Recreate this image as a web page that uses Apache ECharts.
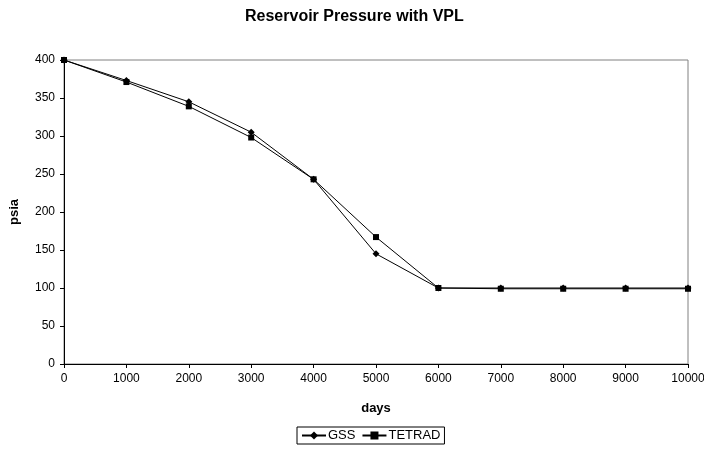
<!DOCTYPE html>
<html>
<head>
<meta charset="utf-8">
<script src="https://cdn.jsdelivr.net/npm/echarts@6/dist/echarts.min.js"></script>
<style>
html, body { margin: 0; padding: 0; background: #fff; }
#main { width: 704px; height: 453px; }
</style>
</head>
<body>
<div id="main"></div>
<script>
var days = [0, 1000, 2000, 3000, 4000, 5000, 6000, 7000, 8000, 9000, 10000];
var gss = [400, 373, 345, 305, 243, 145, 100, 100, 100, 100, 100];
var tetrad = [400, 371, 339, 298, 243, 167, 100, 99, 99, 99, 99];

function pairs(xs, ys) {
	return xs.map(function (x, i) { return [x, ys[i]]; });
}

var chart = echarts.init(document.getElementById('main'));
var font = 'Liberation Sans, Arial, sans-serif';

var option = {
	backgroundColor: '#fff',
	animation: false,
	textStyle: { fontFamily: font },
	title: {
		text: 'Reservoir Pressure with VPL',
		left: 240,
		top: 4,
		textStyle: { fontSize: 16, fontWeight: 'bold', color: '#000', fontFamily: font }
	},
	legend: {
		left: 297,
		top: 427,
		padding: [2, 4],
		itemGap: 6,
		itemWidth: 24,
		itemHeight: 10,
		borderColor: '#000',
		borderWidth: 1,
		borderRadius: 0,
		textStyle: { fontSize: 13, color: '#000', fontFamily: font, padding: [0, 0, 0, -3] },
		data: ['GSS', 'TETRAD']
	},
	grid: {
		left: 64, right: 16, top: 60, bottom: 89,
		outerBoundsMode: 'none',
		containLabel: false,
		show: true,
		borderColor: '#808080',
		borderWidth: 1
	},
	xAxis: {
		type: 'value',
		min: 0, max: 10000, interval: 1000,
		name: 'days',
		nameLocation: 'middle',
		nameGap: 38,
		nameTextStyle: { fontSize: 13, fontWeight: 'bold', color: '#000' },
		axisLine: { lineStyle: { color: '#000', width: 1 } },
		axisTick: { show: true, length: 4, lineStyle: { color: '#000' } },
		axisLabel: { fontSize: 12, color: '#000', margin: 9, formatter: function (v) { return String(v); } },
		splitLine: { show: false }
	},
	yAxis: {
		type: 'value',
		min: 0, max: 400, interval: 50,
		name: 'psia',
		nameLocation: 'middle',
		nameGap: 43,
		nameTextStyle: { fontSize: 13, fontWeight: 'bold', color: '#000' },
		axisLine: { show: true, lineStyle: { color: '#000', width: 1 } },
		axisTick: { show: true, length: 4, lineStyle: { color: '#000' } },
		axisLabel: { fontSize: 12, color: '#000', margin: 9 },
		splitLine: { show: false }
	},
	series: [{
		name: 'GSS',
		type: 'line',
		data: pairs(days, gss),
		symbol: 'diamond',
		symbolSize: 7,
		itemStyle: { color: '#000' },
		lineStyle: { color: '#000', width: 1 }
	}, {
		name: 'TETRAD',
		type: 'line',
		data: pairs(days, tetrad),
		symbol: 'rect',
		symbolSize: 6,
		itemStyle: { color: '#000' },
		lineStyle: { color: '#000', width: 1 }
	}]
};
chart.setOption(option);
</script>
</body>
</html>
